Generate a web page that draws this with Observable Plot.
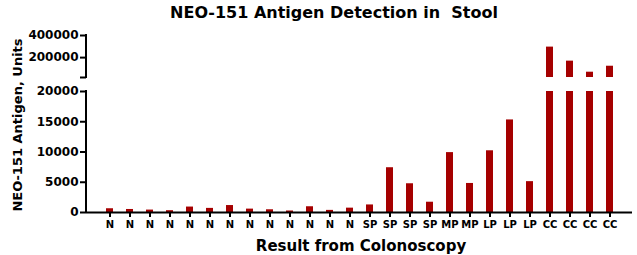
<!DOCTYPE html>
<html>
<head>
<meta charset="utf-8">
<script src="https://cdn.jsdelivr.net/npm/d3@7"></script>
<script src="https://cdn.jsdelivr.net/npm/@observablehq/plot@0.6"></script>
<style>
  html, body { margin: 0; padding: 0; background: #fff; }
  #wrap { position: relative; width: 637px; height: 255px; overflow: hidden; font-family: "DejaVu Sans", sans-serif; font-weight: bold; color: #000; }
  .lbl { position: absolute; white-space: pre; text-align: center; }
  #title { left: 31px; width: 606px; top: 2.5px; font-size: 16px; line-height: 20px; }
  #xlabel { left: 61px; width: 600px; top: 236.5px; font-size: 15px; line-height: 18px; }
  #ylabel { left: -132px; top: 117px; width: 300px; font-size: 13px; line-height: 16px; height: 16px; transform: rotate(-90deg); transform-origin: 150px 8px; }
  #chart { position: absolute; left: 0; top: 0; }
</style>
</head>
<body>
<div id="wrap">
  <div id="chart"></div>
  <div id="title" class="lbl">NEO-151 Antigen Detection in  Stool</div>
  <div id="xlabel" class="lbl">Result from Colonoscopy</div>
  <div id="ylabel" class="lbl">NEO-151 Antigen, Units</div>
</div>
<script>
// categories (result from colonoscopy), one per bar
const categories = ["N","N","N","N","N","N","N","N","N","N","N","N","N",
                    "SP","SP","SP","SP","MP","MP","LP","LP","LP","CC","CC","CC","CC"];
// NEO-151 antigen, units
const values = [620, 500, 400, 300, 900, 680, 1150, 560, 450, 250, 950, 350, 720,
                1250, 7400, 4750, 1700, 9900, 4800, 10200, 15300, 5100,
                295000, 168000, 68000, 122000];
// broken y-axis: lower segment 0–20000, upper segment 20000–400000
const lowerDomain = [0, 20000];
const upperDomain = [20001, 400000];
const yTicks = [0, 5000, 10000, 15000, 20000, 20001, 200000, 400000];
const yTickLabels = ["0", "5000", "10000", "15000", "20000", "", "200000", "400000"];

// piecewise (broken) axis: lower segment takes 121 units, gap 14, upper 42
const LOW = 121, GAP = 14, UP = 42;
const yBreak = v => v <= lowerDomain[1]
  ? (v - lowerDomain[0]) / (lowerDomain[1] - lowerDomain[0]) * LOW
  : LOW + GAP + (v - upperDomain[0]) / (upperDomain[1] - upperDomain[0]) * UP;

const data = categories.map((c, i) => ({i, c, v: values[i]}));
const upper = data.filter(d => d.v > lowerDomain[1]);
const barColor = "#a50000";

// tick positions on the broken scale and their labels
const tickPos = yTicks.map(yBreak);
const tickLabel = new Map(tickPos.map((p, k) => [p, yTickLabels[k]]));

// axis line for each y segment, drawn with the plot's y scale
const yAxisLines = (index, scales, vals, dim) => {
  const g = d3.create("svg:g");
  for (const [a, b] of [lowerDomain, upperDomain]) {
    g.append("line")
      .attr("x1", dim.marginLeft).attr("x2", dim.marginLeft)
      .attr("y1", scales.y(yBreak(a)) + 1).attr("y2", scales.y(yBreak(b)) - 1)
      .attr("stroke", "black").attr("stroke-width", 2);
  }
  return g.node();
};

const chart = Plot.plot({
  width: 637,
  height: 255,
  marginLeft: 86,
  marginRight: 5,
  marginTop: 35,
  marginBottom: 43,
  style: {fontFamily: "DejaVu Sans, sans-serif", fontWeight: "bold", color: "black", background: "transparent", overflow: "visible"},
  x: {type: "band", domain: d3.range(categories.length), paddingInner: 0.665, paddingOuter: 0.36, axis: null},
  y: {type: "linear", transform: yBreak, domain: [0, LOW + GAP + UP], axis: null},
  marks: [
    Plot.barY(data, {x: "i", y1: lowerDomain[0], y2: d => Math.min(d.v, lowerDomain[1]), fill: barColor}),
    Plot.barY(upper, {x: "i", y1: upperDomain[0], y2: "v", fill: barColor}),
    Plot.ruleY([0], {stroke: "black", strokeWidth: 2}),
    yAxisLines,
    Plot.axisY({ticks: tickPos, tickFormat: p => tickLabel.get(p) ?? "", tickSize: 6, tickPadding: 2, fontSize: 12, strokeWidth: 2, label: null}),
    Plot.axisX({tickFormat: i => categories[i], tickSize: 5, tickPadding: 3, fontSize: 10, strokeWidth: 2, label: null})
  ]
});
document.getElementById("chart").appendChild(chart);
</script>
</body>
</html>
